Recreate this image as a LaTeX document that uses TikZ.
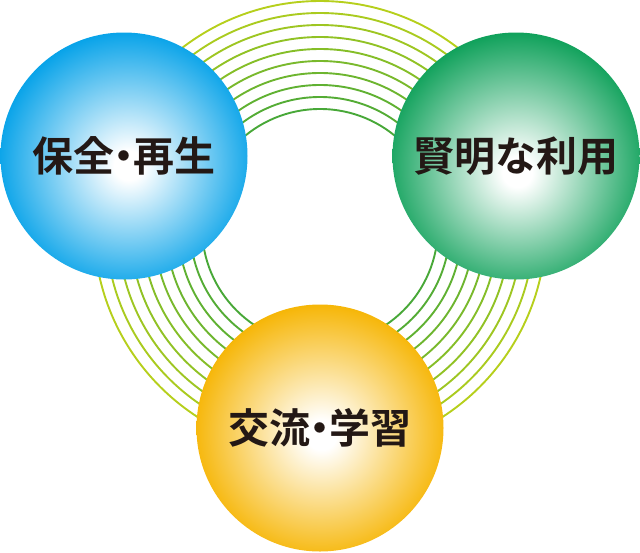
\documentclass[tikz,border=0pt]{standalone}
\usepackage{fontspec}
\newfontfamily\jp{Noto Sans CJK JP}[BoldFont={Noto Sans CJK JP Bold}]
\definecolor{bluec}{RGB}{0,160,232}
\definecolor{greenc}{RGB}{0,155,80}
\definecolor{yellowc}{RGB}{246,180,0}
\definecolor{ringout}{RGB}{182,207,28}
\definecolor{ringin}{RGB}{72,168,56}
\definecolor{inkc}{RGB}{35,24,21}
\pgfdeclareradialshading{ballblue}{\pgfpoint{1bp}{-2bp}}{color(0bp)=(white); color(3bp)=(white); color(27bp)=(bluec); color(60bp)=(bluec)}
\pgfdeclareradialshading{ballgreen}{\pgfpoint{0.3bp}{-3.5bp}}{color(0bp)=(white); color(3bp)=(white); color(28.5bp)=(greenc); color(60bp)=(greenc)}
\pgfdeclareradialshading{ballyellow}{\pgfpoint{0.3bp}{-1.5bp}}{color(0bp)=(white); color(3bp)=(white); color(26.5bp)=(yellowc); color(60bp)=(yellowc)}
\tikzset{
  ball/.style={circle, minimum size=247pt, inner sep=0pt, text=inkc,
    font=\jp\bfseries\fontsize{41}{41}\selectfont},
  ring/.style={line width=1.9pt}
}
\newcommand{\jdot}{\kern-0.28em・\kern-0.28em}
\begin{document}
\begin{tikzpicture}[x=1pt,y=-1pt]
\useasboundingbox (0,0) rectangle (640,552);
\coordinate (ringc) at (320,227);
\foreach \i in {0,...,9}{
  \pgfmathsetmacro\t{100*\i/9}
  \draw[ring, draw=ringout!\t!ringin] (ringc) circle[radius={(118+12*\i)*1pt}];
}
\node[ball, shading=ballblue] (blue) at (124,156) {保全\jdot 再生};
\node[ball, shading=ballgreen] (green) at (516,156) {賢明な利用};
\node[ball, shading=ballyellow] (yellow) at (320,428) {交流\jdot 学習};
\end{tikzpicture}
\end{document}
